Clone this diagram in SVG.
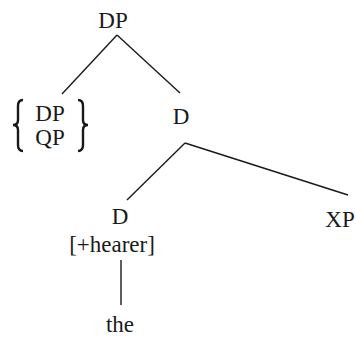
<svg xmlns="http://www.w3.org/2000/svg" width="356" height="338" viewBox="0 0 356 338">
<style>
text{font-family:"Liberation Serif","Times New Roman",serif;font-size:23px;fill:#1a1a1a;text-anchor:middle}
.e{stroke:#1a1a1a;stroke-width:1.4;fill:none}
.b{stroke:#1a1a1a;stroke-width:2.4;fill:none}
</style>
<rect width="356" height="338" fill="#fff"/>
<g id="connectors">
<line class="e" x1="117" y1="35" x2="62" y2="94"/>
<line class="e" x1="117" y1="35" x2="180" y2="93"/>
<line class="e" x1="185" y1="143" x2="127" y2="200"/>
<line class="e" x1="185" y1="143" x2="348" y2="195"/>
<line class="e" x1="121" y1="260" x2="121" y2="305"/>
</g>
<g id="n-dp"><text x="113" y="28">DP</text></g>
<g id="n-set">
<path class="b" d="M23,100 Q18,100 18,106 L18,120 Q18,125 13,125 Q18,125 18,130 L18,145 Q18,151 23,151"/>
<text x="50" y="121" font-size="20">DP</text>
<text x="50" y="145" font-size="20">QP</text>
<path class="b" d="M78,100 Q83,100 83,106 L83,120 Q83,125 88,125 Q83,125 83,130 L83,145 Q83,151 78,151"/>
</g>
<g id="n-dbar"><text x="181" y="124">D</text></g>
<g id="n-d"><text x="120" y="224">D</text><text x="112" y="252" font-size="22">[+hearer]</text></g>
<g id="n-xp"><text x="340" y="227">XP</text></g>
<g id="n-the"><text x="120" y="332">the</text></g>
</svg>
